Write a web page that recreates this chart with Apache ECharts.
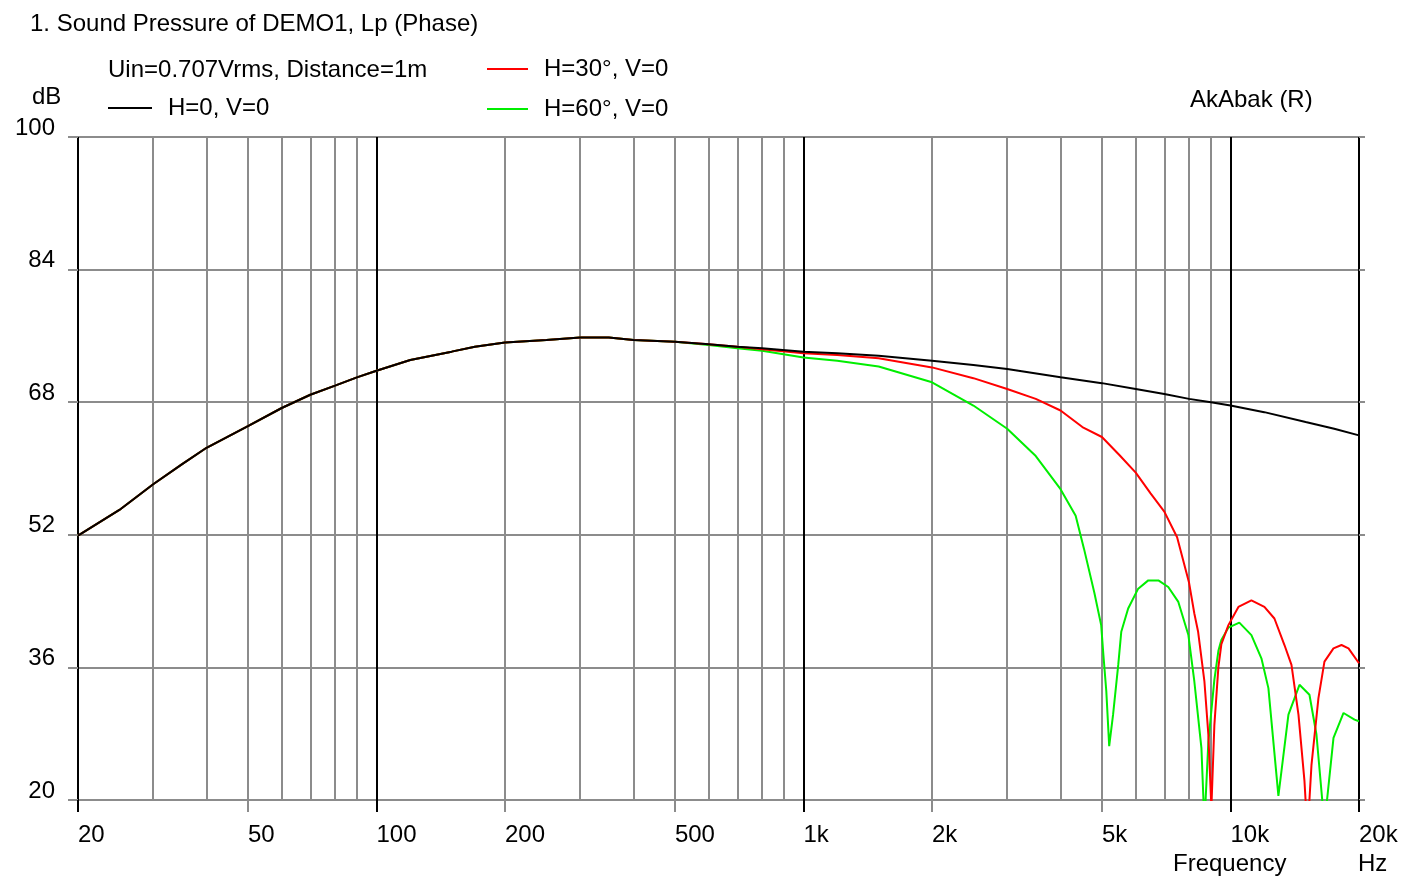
<!DOCTYPE html>
<html>
<head>
<meta charset="utf-8">
<title>Sound Pressure of DEMO1</title>
<script src="https://cdn.jsdelivr.net/npm/echarts@6/dist/echarts.min.js"></script>
<style>
  html, body { margin: 0; padding: 0; background: #fff; }
  #chart { width: 1401px; height: 877px; }
</style>
</head>
<body>
<div id="chart"></div>
<script>
// levels in dB, frequencies in Hz
// below ~500 Hz the three curves sit on top of each other
const lowFreq = [20, 25, 30, 35, 40, 50, 60, 70, 80, 90, 100, 120, 150, 170, 200, 250, 300, 350, 400, 500];
const lowDb = [51.9, 55.0, 58.1, 60.5, 62.5, 65.1, 67.3, 68.9, 70.0, 71.0, 71.8, 73.1, 74.1, 74.7, 75.2, 75.5, 75.8, 75.8, 75.5, 75.3];

// H=0, V=0
const axisFreq = [600, 700, 800, 1000, 1200, 1500, 2000, 2500, 3000, 4000, 5000, 6000, 7000, 8000, 9000, 10000, 12000, 15000, 17500, 20000];
const axisDb = [75.0, 74.7, 74.5, 74.1, 73.9, 73.6, 73.0, 72.5, 72.0, 71.0, 70.3, 69.6, 69.0, 68.4, 68.0, 67.6, 66.8, 65.6, 64.8, 64.0];

// H=30, V=0
const deg30Freq = [600, 700, 800, 1000, 1200, 1500, 2000, 2500, 3000, 3500, 4000, 4500, 5000, 5500, 6000, 6500, 7000, 7500,
  8000, 8230, 8400, 8690, 8876, 9022, 9168, 9369, 9522, 9890, 10438, 11195, 12008, 12675, 13380, 13896, 14430, 14904, 15150,
  15478, 16070, 16600, 17428, 18200, 18900, 20000];
const deg30Db = [75.0, 74.7, 74.4, 73.9, 73.7, 73.3, 72.2, 70.9, 69.6, 68.4, 67.0, 65.0, 63.8, 61.6, 59.5, 57.0, 54.8, 51.7,
  46.2, 42.5, 40.3, 34.3, 27.9, 19.0, 29.0, 36.0, 38.8, 41.1, 43.3, 44.1, 43.3, 41.9, 38.7, 36.3, 30.3, 22.3, 16.0,
  24.2, 32.3, 36.7, 38.3, 38.7, 38.3, 36.5];

// H=60, V=0
const deg60Freq = [600, 700, 800, 1000, 1200, 1500, 2000, 2500, 3000, 3500, 4000, 4340, 4540, 4800, 4980, 5040, 5120, 5200,
  5310, 5460, 5550, 5760, 6080, 6420, 6780, 7150, 7550, 7970, 8230, 8550, 8690, 8876, 9168, 9370, 9520, 9890, 10490, 11195,
  11816, 12270, 12950, 13670, 14510, 15310, 15900, 16600, 17430, 18400, 19520, 20000];
const deg60Db = [74.9, 74.5, 74.2, 73.4, 73.0, 72.3, 70.4, 67.6, 64.8, 61.5, 57.5, 54.3, 50.3, 45.0, 41.1, 37.5, 33.1, 26.5,
  30.3, 36.3, 40.3, 43.1, 45.5, 46.5, 46.5, 45.7, 43.9, 39.9, 34.3, 26.3, 17.0, 27.0, 34.5, 38.0, 39.3, 40.8, 41.4, 39.9,
  37.1, 33.5, 20.5, 30.3, 33.9, 32.7, 27.9, 17.0, 27.5, 30.5, 29.7, 29.5];

// axis ticks
const gridFreqs = [20, 30, 40, 50, 60, 70, 80, 90, 100, 200, 300, 400, 500, 600, 700, 800, 900,
  1000, 2000, 3000, 4000, 5000, 6000, 7000, 8000, 9000, 10000, 20000];
const labelFreqs = [20, 50, 100, 200, 500, 1000, 2000, 5000, 10000, 20000];
const majorFreqs = [20, 100, 1000, 10000, 20000];
const minorTickFreqs = [50, 200, 500, 2000, 5000];
const dbTicks = [20, 36, 52, 68, 84, 100];

const FONT = '"Liberation Sans", Arial, sans-serif';
const GRAY = '#8c8c8c';
const xMin = Math.log10(20);
const xMax = Math.log10(20000);

function toPoints(freq, db) {
  return freq.map((f, i) => [Math.log10(f), db[i]]);
}
function freqLabel(v) {
  const f = Math.round(Math.pow(10, v));
  return f >= 1000 ? f / 1000 + 'k' : String(f);
}

const myChart = echarts.init(document.getElementById('chart'));

const textStyle = { fontFamily: FONT, fontSize: 24, fontWeight: 'normal', color: '#000' };
const titles = [
  ['1. Sound Pressure of DEMO1, Lp (Phase)', 30, 12],
  ['Uin=0.707Vrms, Distance=1m', 108, 58],
  ['dB', 32, 85],
  ['AkAbak (R)', 1190, 88],
  ['Frequency', 1173, 852],
  ['Hz', 1358, 852]
].map(t => ({ text: t[0], left: t[1], top: t[2], padding: 0, textStyle: textStyle }));

const legendText = { fontFamily: FONT, fontSize: 24, color: '#000', lineHeight: 24, padding: [0, 0, 0, 11] };

const option = {
  animation: false,
  backgroundColor: '#fff',
  title: titles,
  legend: [
    {
      data: ['H=0, V=0'], left: 108, top: 96, padding: 0,
      icon: 'rect', itemWidth: 44, itemHeight: 2, selectedMode: false, textStyle: legendText
    },
    {
      data: ['H=30°, V=0', 'H=60°, V=0'], orient: 'vertical', left: 487, top: 57, padding: 0, itemGap: 16,
      icon: 'rect', itemWidth: 41, itemHeight: 2, selectedMode: false, textStyle: legendText
    }
  ],
  grid: { left: 78, right: 42, top: 137, bottom: 77, containLabel: false },
  xAxis: [
    {
      // grid lines: black at decades and ends, gray elsewhere
      type: 'value', min: xMin, max: xMax, position: 'bottom',
      axisLine: { show: false, onZero: false },
      axisTick: { show: false, customValues: gridFreqs.map(Math.log10) },
      axisLabel: { show: false },
      splitLine: {
        show: true,
        lineStyle: { width: 2, color: gridFreqs.map(f => majorFreqs.includes(f) ? '#000' : GRAY) }
      }
    },
    {
      type: 'value', min: xMin, max: xMax, position: 'bottom',
      axisLine: { show: false, onZero: false },
      axisTick: { show: true, length: 12, customValues: majorFreqs.map(Math.log10), lineStyle: { color: '#000', width: 2 } },
      axisLabel: {
        customValues: labelFreqs.map(Math.log10), formatter: freqLabel, align: 'left', margin: 23,
        fontFamily: FONT, fontSize: 24, color: '#000'
      },
      splitLine: { show: false }
    },
    {
      type: 'value', min: xMin, max: xMax, position: 'bottom',
      axisLine: { show: false, onZero: false },
      axisTick: { show: true, length: 12, customValues: minorTickFreqs.map(Math.log10), lineStyle: { color: GRAY, width: 2 } },
      axisLabel: { show: false },
      splitLine: { show: false }
    }
  ],
  yAxis: [
    {
      type: 'value', min: 20, max: 100, position: 'left',
      axisLine: { show: false, onZero: false },
      axisTick: { show: true, length: 10, customValues: dbTicks, lineStyle: { color: GRAY, width: 2 } },
      axisLabel: {
        customValues: dbTicks, margin: 23, verticalAlign: 'bottom', lineHeight: 18,
        fontFamily: FONT, fontSize: 24, color: '#000'
      },
      splitLine: { show: true, lineStyle: { color: GRAY, width: 2 } }
    },
    {
      type: 'value', min: 20, max: 100, position: 'right',
      axisLine: { show: false, onZero: false },
      axisTick: { show: true, length: 6, customValues: dbTicks, lineStyle: { color: GRAY, width: 2 } },
      axisLabel: { show: false },
      splitLine: { show: false }
    }
  ],
  series: [
    {
      name: 'H=60°, V=0', type: 'line', color: '#00ee00', showSymbol: false, symbol: 'none',
      lineStyle: { width: 2 }, data: toPoints(lowFreq.concat(deg60Freq), lowDb.concat(deg60Db))
    },
    {
      name: 'H=30°, V=0', type: 'line', color: '#ff0000', showSymbol: false, symbol: 'none',
      lineStyle: { width: 2 }, data: toPoints(lowFreq.concat(deg30Freq), lowDb.concat(deg30Db))
    },
    {
      name: 'H=0, V=0', type: 'line', color: '#000000', showSymbol: false, symbol: 'none',
      lineStyle: { width: 2 }, data: toPoints(lowFreq.concat(axisFreq), lowDb.concat(axisDb))
    }
  ]
};

myChart.setOption(option);
</script>
</body>
</html>
